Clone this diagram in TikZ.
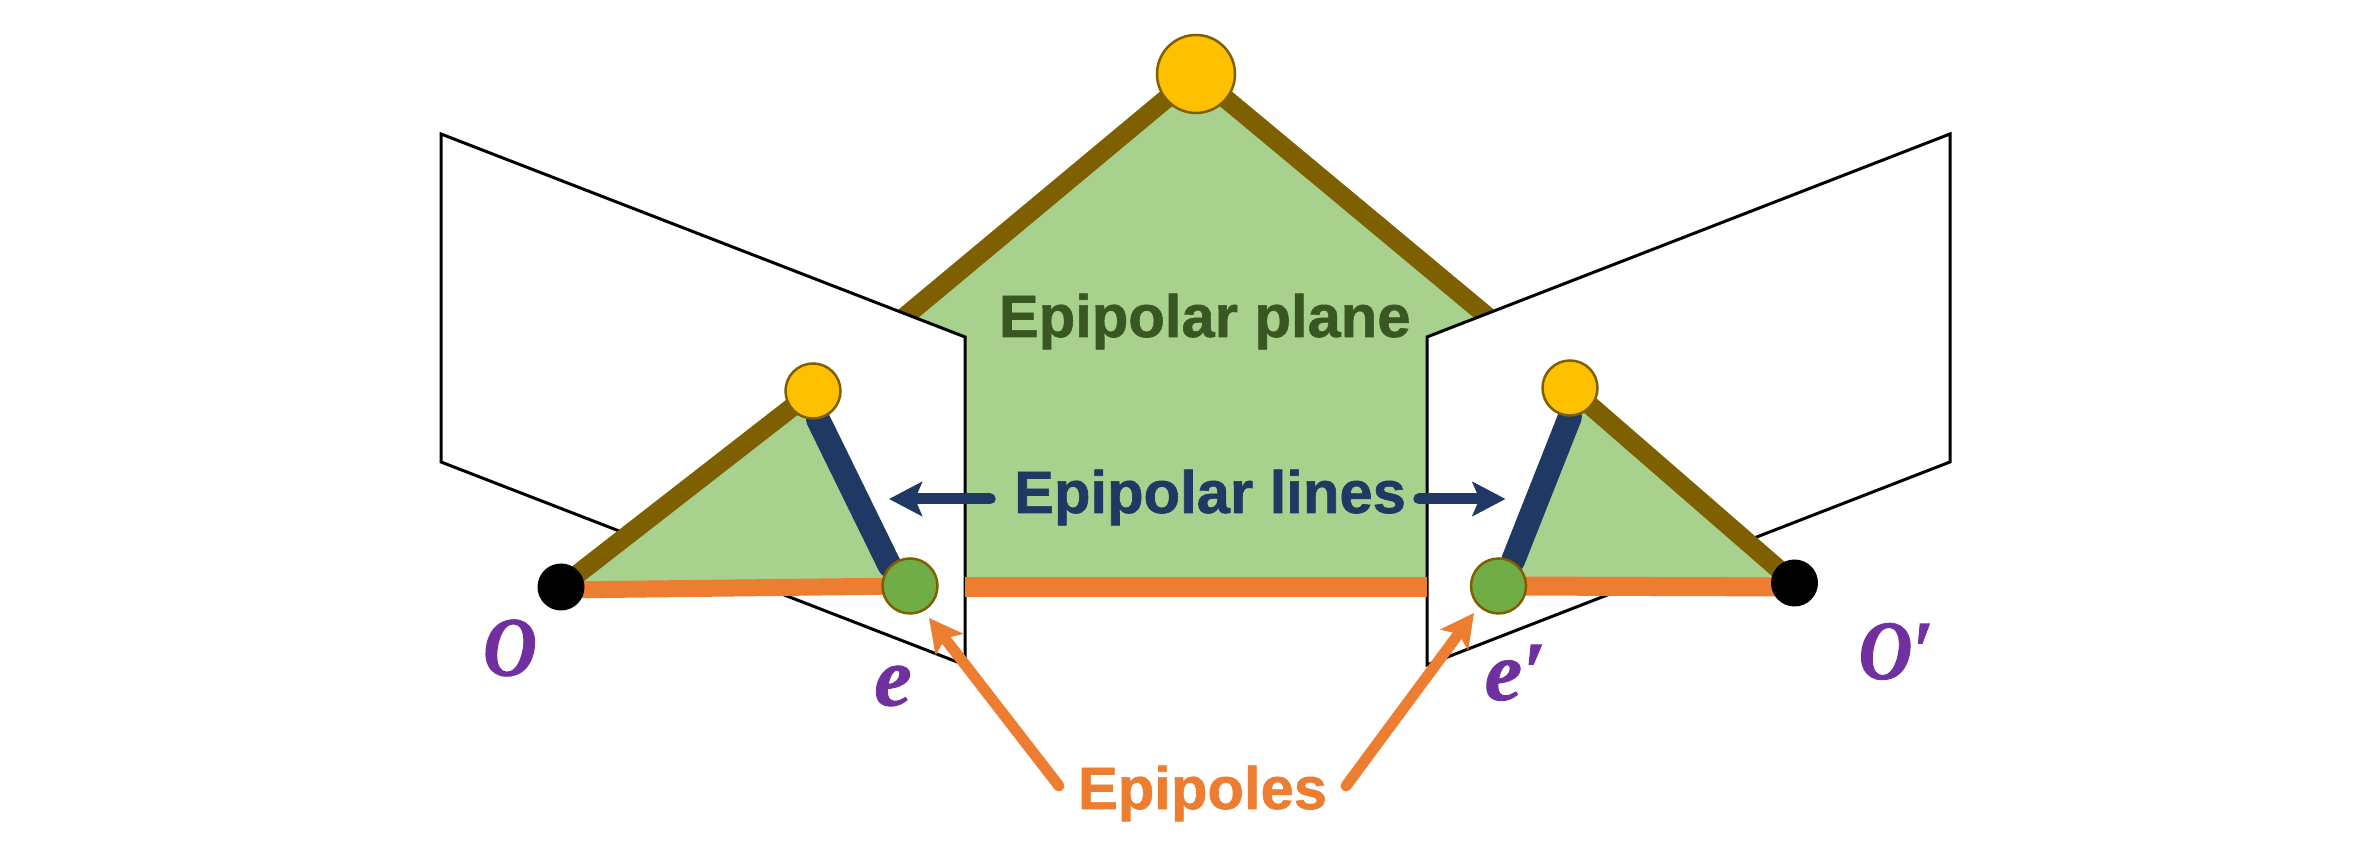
\documentclass[tikz,border=0pt]{standalone}
\usepackage{fontspec}
\setmainfont[BoldFeatures={FakeBold=1}]{Liberation Sans}
\newfontfamily\labelfont[BoldItalicFeatures={FakeBold=1}]{Liberation Serif}
\newfontfamily\labelfontO[BoldItalicFeatures={FakeBold=1,FakeStretch=0.88}]{Liberation Serif}
\usetikzlibrary{arrows.meta,backgrounds}

\definecolor{planegreen}{HTML}{A9D18E}
\definecolor{raybrown}{HTML}{7F6000}
\definecolor{linenavy}{HTML}{1F3864}
\definecolor{baseorange}{HTML}{ED7D31}
\definecolor{pointyellow}{HTML}{FFC000}
\definecolor{epigreen}{HTML}{70AD47}
\definecolor{textgreen}{HTML}{385723}
\definecolor{labelpurple}{HTML}{7030A0}

\tikzset{
    pointdot/.style={circle,draw=raybrown,line width=0.25mm,inner sep=0pt,minimum size=5.5mm},
    bigdot/.style={pointdot,minimum size=7.8mm},
    camdot/.style={circle,fill=black,inner sep=0pt,minimum size=4.7mm},
    titletext/.style={font=\fontsize{17}{20}\bfseries\selectfont,inner sep=0pt},
    viewlabel/.style={font=\labelfont\fontsize{24}{28}\bfseries\itshape\selectfont,text=labelpurple,inner sep=0pt},
    ray/.style={draw=raybrown,line width=1.9mm},
    imageplane/.style={draw=black,fill=white,line width=0.3mm,line join=miter},
    pointer/.style={line width=1.1mm,line cap=round,-{Stealth[length=3.3mm,width=3.4mm,inset=0.7mm]}}
}

\begin{document}
\begin{tikzpicture}
    \useasboundingbox (0,0) rectangle (23.8,8.41);

    \coordinate (Al) at (8.78,5.02);
    \coordinate (Ar) at (15.12,5.04);
    \coordinate (Bl) at (8.78,2.54);
    \coordinate (Br) at (15.12,2.54);
    \coordinate (Cl) at (9.65,2.54);
    \coordinate (Cr) at (14.27,2.54);

    \node[bigdot,fill=pointyellow] (P) at (11.96,7.67) {};
    \node[pointdot,fill=pointyellow] (Pl) at (8.13,4.50) {};
    \node[pointdot,fill=pointyellow] (Pr) at (15.70,4.53) {};
    \node[pointdot,fill=epigreen] (El) at (9.10,2.55) {};
    \node[pointdot,fill=epigreen] (Er) at (14.985,2.55) {};
    \node[camdot] (Ol) at (5.61,2.54) {};
    \node[camdot] (Or) at (17.945,2.58) {};

    \node[titletext,text=textgreen,anchor=base] (plane) at (12.047,5.04) {Epipolar plane};
    \node[titletext,text=linenavy,text height=4.3mm,text depth=1.5mm,outer sep=1.3mm] (lines) at (12.10,3.42) {Epipolar lines};
    \node[titletext,text=baseorange,text height=5mm,text depth=0.4mm,outer sep=1.9mm] (epipoles) at (12.025,0.55) {Epipoles};

    \node[viewlabel] (nOl) at (5.10,1.93) {\labelfontO O};
    \node[viewlabel] (nEl) at (8.93,1.55) {e};
    \node[viewlabel,anchor=base west] (nEr) at (14.84,1.41) {e′};
    \node[viewlabel,anchor=base west] (nOr) at (18.58,1.62) {\labelfontO O′};

    \coordinate (tipLl) at (8.89,3.42);
    \coordinate (tipLr) at (15.055,3.42);
    \coordinate (tipEl) at (9.29,2.23);
    \coordinate (tipEr) at (14.74,2.28);

    \begin{pgfonlayer}{background}
    \fill[planegreen] (P.center)--(Al)--(Bl)--(Br)--(Ar)--cycle;
    \draw[ray] (P.center)--(Al);
    \draw[ray] (P.center)--(Ar);

    \draw[imageplane] (4.41,7.07)--(9.65,5.04)--(9.65,1.76)--(4.41,3.79)--cycle;
    \draw[imageplane] (14.27,5.04)--(19.50,7.07)--(19.50,3.79)--(14.27,1.76)--cycle;
    \draw[baseorange,line width=2mm] (Cl)--(Cr);

    \fill[planegreen] (Ol.center)--(Pl.center)--(El.center)--cycle;
    \fill[planegreen] (Or.center)--(Pr.center)--(Er.center)--cycle;
    \draw[ray] (Ol.center)--(Pl.center);
    \draw[ray] (Or.center)--(Pr.center);
    \draw[linenavy,line width=2.4mm,line cap=round] (Pl.-80)--(El.135);
    \draw[linenavy,line width=2.4mm,line cap=round] (Pr.south)--(Er.60);
    \draw[baseorange,line width=1.7mm] ([yshift=-0.3mm]Ol.center)--(El.center);
    \draw[baseorange,line width=1.9mm] ([yshift=-0.4mm]Or.center)--(Er.center);

    \draw[pointer,linenavy,shorten <=1.1mm] (lines.west)--(tipLl);
    \draw[pointer,linenavy] (lines.east)--(tipLr);
    \draw[pointer,baseorange] (epipoles.west)--(tipEl);
    \draw[pointer,baseorange] (epipoles.east)--(tipEr);
    \end{pgfonlayer}
\end{tikzpicture}
\end{document}
